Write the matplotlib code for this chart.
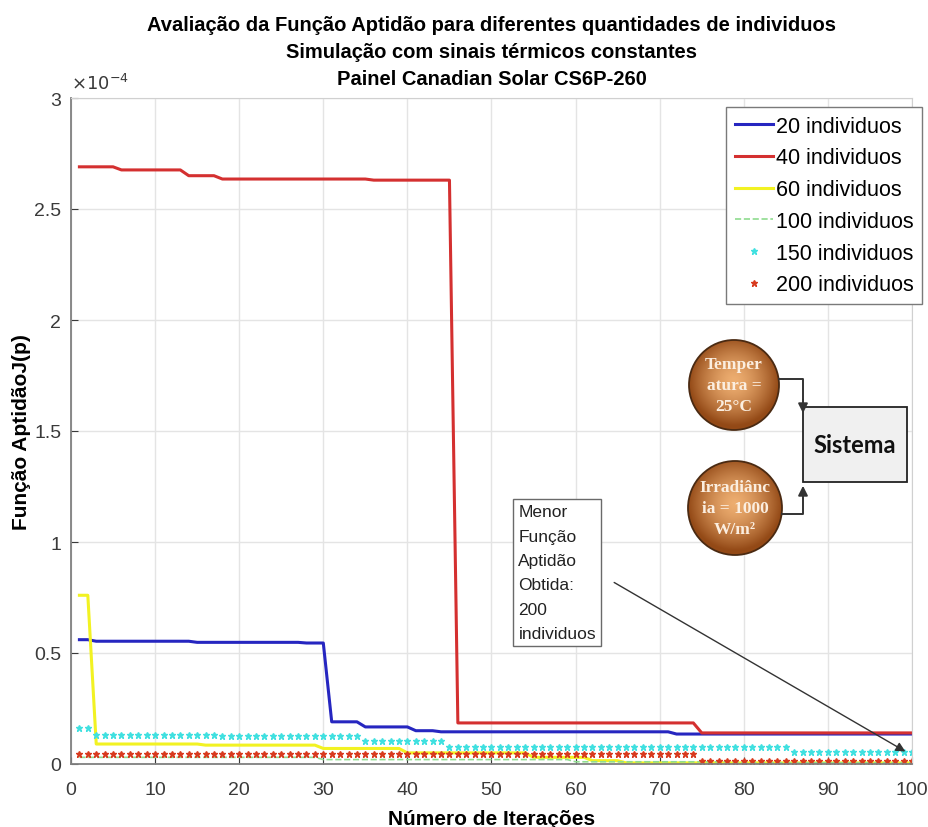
import numpy as np
import matplotlib
matplotlib.use('Agg')
import matplotlib.pyplot as plt
from matplotlib import font_manager
from matplotlib.patches import Circle, Rectangle

# iterations
iters = np.arange(1, 101)

# step curves: iteration where each level starts, level (x1e-4)
blue_start = [1, 3, 15, 28, 31, 35, 41, 44, 72]
blue_level = [0.56, 0.553, 0.548, 0.545, 0.19, 0.167, 0.15, 0.145, 0.135]

red_start = [1, 6, 14, 18, 36, 46, 75]
red_level = [2.69, 2.676, 2.65, 2.635, 2.63, 0.185, 0.14]

yellow_start = [1, 3, 16, 30, 40, 55, 62, 66]
yellow_level = [0.76, 0.09, 0.085, 0.07, 0.05, 0.03, 0.015, 0.005]

green_start = [1, 30, 60, 80]
green_level = [0.03, 0.02, 0.01, 0.005]

cyan_start = [1, 3, 18, 35, 45, 86]
cyan_level = [0.16, 0.132, 0.128, 0.105, 0.078, 0.054]

dots_start = [1, 75]
dots_level = [0.045, 0.013]

labels = ['20 individuos', '40 individuos', '60 individuos',
          '100 individuos', '150 individuos', '200 individuos']


def steps(start, level):
    lengths = np.diff(start + [101])
    return np.repeat(level, lengths)


names = {f.name for f in font_manager.fontManager.ttflist}
title_font = 'Liberation Sans Narrow' if 'Liberation Sans Narrow' in names else 'Liberation Sans'
title_size = 15.5 if title_font == 'Liberation Sans Narrow' else 14.5
plt.rcParams['font.family'] = ['Liberation Sans', 'DejaVu Sans']

W, H = 929, 828
fig = plt.figure(figsize=(W / 100, H / 100), dpi=100)
ax = fig.add_axes([71 / W, 1 - 765 / H, (912 - 71) / W, (765 - 99) / H])

ax.plot(iters, steps(blue_start, blue_level), color='#2626c0', lw=2.2, label=labels[0])
ax.plot(iters, steps(red_start, red_level), color='#d43030', lw=2.2, label=labels[1])
ax.plot(iters, steps(yellow_start, yellow_level), color='#f2f222', lw=2.2, label=labels[2])
ax.plot(iters, steps(green_start, green_level), color='#8fdc8f', lw=1.2, ls='--', label=labels[3])
ax.plot(iters, steps(cyan_start, cyan_level), ls='none', marker='*', ms=5,
        color='#40e0e0', label=labels[4])
ax.plot(iters, steps(dots_start, dots_level), ls='none', marker='*', ms=5,
        color='#d83a1e', label=labels[5])

ax.set_xlim(0, 100)
ax.set_ylim(0, 3)
ax.set_xticks(np.arange(0, 101, 10))
ax.set_yticks(np.arange(0, 3.01, 0.5))
ax.set_yticklabels(['0', '0.5', '1', '1.5', '2', '2.5', '3'])
ax.tick_params(direction='in', labelsize=14, colors='#3a3a3a', length=5)
ax.tick_params(axis='x', pad=12)
ax.tick_params(axis='y', pad=7)
ax.grid(True, color='#e4e4e4', lw=1)
ax.set_axisbelow(True)
for side in ['left', 'bottom']:
    ax.spines[side].set_color('#808080')
    ax.spines[side].set_linewidth(1.3)
for side in ['top', 'right']:
    ax.spines[side].set_color('#d0d0d0')
    ax.spines[side].set_linewidth(0.8)

ax.text(0.0, 1.008, r'$\times10^{-4}$', transform=ax.transAxes, fontsize=13,
        color='#3a3a3a', va='bottom', ha='left')

ax.set_xlabel('Número de Iterações', fontsize=15, fontweight='bold', labelpad=8)
ax.set_ylabel('Função AptidãoJ(p)', fontsize=15, fontweight='bold', labelpad=2)
ax.set_title('Avaliação da Função Aptidão para diferentes quantidades de individuos\n'
             'Simulação com sinais térmicos constantes\n'
             'Painel Canadian Solar CS6P-260',
             fontsize=title_size, fontweight='bold', family=title_font, pad=10,
             linespacing=1.55)

leg = ax.legend(loc='upper right', bbox_to_anchor=(922 / W, 1 - 108 / H),
                bbox_transform=fig.transFigure, fontsize=15.5, frameon=True,
                fancybox=False, framealpha=1, edgecolor='#7a7a7a',
                handlelength=1.8, handletextpad=0.1, labelspacing=0.5,
                borderpad=0.4, borderaxespad=0)
leg.get_frame().set_linewidth(1.0)

# annotation box with arrow
ax.text(53.2, 1.17, 'Menor\nFunção\nAptidão\nObtida:\n200\nindividuos', fontsize=12.5,
        va='top', ha='left', color='#222222', linespacing=1.78,
        bbox=dict(boxstyle='square,pad=0.3', fc='white', ec='#6a6a6a', lw=1))
ax.annotate('', xy=(99.5, 0.05), xytext=(64.3, 0.824),
            arrowprops=dict(arrowstyle='-|>', color='#333333', lw=1, mutation_scale=14))

# small block diagram drawn in pixel coordinates
dax = fig.add_axes([660 / W, 1 - 565 / H, 260 / W, 230 / H])
dax.set_xlim(660, 920)
dax.set_ylim(565, 335)
dax.axis('off')
dax.patch.set_alpha(0)


def ball(cx, cy, r, text):
    n = 200
    g = np.linspace(-1, 1, n)
    xx, yy = np.meshgrid(g, g)
    d = np.clip(np.sqrt(xx ** 2 + (yy + 0.1) ** 2), 0, 1)
    c0 = np.array([0.93, 0.68, 0.44])
    c1 = np.array([0.58, 0.29, 0.09])
    img = c0[None, None, :] * (1 - d[..., None] ** 1.5) + c1[None, None, :] * d[..., None] ** 1.5
    im = dax.imshow(img, extent=[cx - r, cx + r, cy + r, cy - r], zorder=2)
    clip = Circle((cx, cy), r, transform=dax.transData)
    im.set_clip_path(clip)
    dax.add_patch(Circle((cx, cy), r, fc='none', ec='#4a2a12', lw=1.3, zorder=3))
    dax.text(cx, cy, text, ha='center', va='center', fontsize=12.5, color='#fbeee0',
             family='Liberation Serif', fontweight='bold', linespacing=1.45, zorder=4)


ball(734, 386, 45, 'Temper\natura =\n25°C')
ball(735, 509, 47, 'Irradiânc\nia = 1000\nW/m²')

dax.add_patch(Rectangle((803, 408), 104, 75, fc='#f0f0f0', ec='#222222', lw=1.3, zorder=2))
dax.text(855, 446, 'Sistema', ha='center', va='center', fontsize=17, fontweight='bold',
         family='Lato', color='#111111', zorder=3)

dax.plot([779, 803, 803], [380, 380, 400], color='#333333', lw=1.4, zorder=3)
dax.annotate('', xy=(803, 417), xytext=(803, 398),
             arrowprops=dict(arrowstyle='-|>', color='#333333', lw=1.4, mutation_scale=14))
dax.plot([782, 803, 803], [515, 515, 500], color='#333333', lw=1.4, zorder=3)
dax.annotate('', xy=(803, 484), xytext=(803, 502),
             arrowprops=dict(arrowstyle='-|>', color='#333333', lw=1.4, mutation_scale=14))

fig.savefig('out.png', dpi=100)
